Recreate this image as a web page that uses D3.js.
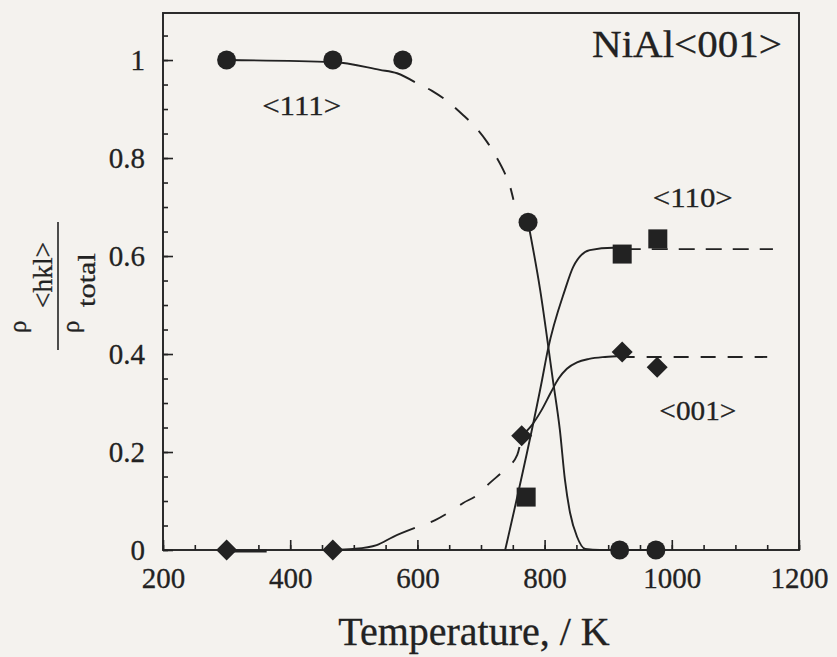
<!DOCTYPE html>
<html><head><meta charset="utf-8">
<script src="https://cdn.jsdelivr.net/npm/d3@7"></script>
<style>
body{margin:0;background:#f4f2ee}
svg{display:block}
</style>
</head><body>
<svg id="c" width="837" height="657"></svg>
<script>
// ---------- data ----------
const xTickValues = [200, 400, 600, 800, 1000, 1200];
const yTickValues = [0, 0.2, 0.4, 0.6, 0.8, 1];
const yTickLabels = ["0", "0.2", "0.4", "0.6", "0.8", "1"];

// measured points (Temperature K, fraction)
const temp111 = [300, 467, 577, 774, 918, 975];
const frac111 = [1.0, 1.0, 1.0, 0.669, 0, 0];
const temp110 = [771, 922, 978];
const frac110 = [0.108, 0.604, 0.635];
const temp001 = [300, 467, 764, 922, 977];
const frac001 = [0, 0, 0.233, 0.404, 0.373];

// guide curves [T, fraction]
const fit111Solid  = [[300,1.0],[467,0.996],[541,0.98],[568,0.973],[596,0.955]];
const fit111Dashed = [[596,0.955],[623,0.937],[648,0.915],[670,0.89],[692,0.862],[710,0.832],[725,0.80],[737,0.77],[745,0.745],[751,0.715]];
const fit111Drop   = [[774,0.669],[793,0.531],[813,0.347],[824,0.245],[832,0.143],[840,0.076],[851,0.027],[864,0.002],[887,0],[975,0]];
const fit110Rise   = [[738,0],[796,0.347],[805,0.408],[832,0.531],[845,0.578],[871,0.612],[908,0.617],[922,0.613]];
const fit110Plateau= [[926,0.614],[1159,0.614]];
const fit001Low    = [[300,-0.002],[363,-0.002]];
const fit001Solid  = [[467,0],[499,0.002],[536,0.010],[562,0.027],[596,0.045]];
const fit001Dashed = [[596,0.045],[628,0.061],[651,0.078],[672,0.096],[694,0.112],[714,0.137],[738,0.165],[757,0.194],[764,0.233]];
const fit001Rise   = [[764,0.233],[780,0.255],[795,0.285],[810,0.322],[822,0.350],[835,0.370],[851,0.383],[870,0.390],[895,0.394],[922,0.396]];
const fit001Plateau= [[918,0.394],[1150,0.394]];

// annotations [text, T, fraction]
const labelTexts = ["<111>", "<110>", "<001>"];
const labelT     = [418, 1033, 1041];
const labelFrac  = [0.888, 0.700, 0.265];

// ---------- drawing ----------
const ink = "#222222";
const svg = d3.select("#c");
svg.append("rect").attr("width",837).attr("height",657).attr("fill","#f4f2ee");

const x = d3.scaleLinear().domain([200,1200]).range([163,799]);
const y = d3.scaleLinear().domain([0,1.096]).range([550,13]);

const font = "'Liberation Serif','Times New Roman',serif";

// minor ticks
const gxm = svg.append("g").attr("transform","translate(0,550)")
  .call(d3.axisBottom(x).tickValues(d3.range(200,1201,50)).tickSize(-5).tickFormat(""));
const gym = svg.append("g").attr("transform","translate(163,0)")
  .call(d3.axisLeft(y).tickValues(d3.range(0,1.0751,0.05)).tickSize(-5).tickFormat(""));
// major ticks
const gx = svg.append("g").attr("transform","translate(0,550)")
  .call(d3.axisBottom(x).tickValues(xTickValues).tickSize(-10).tickFormat(d3.format("d")));
const gy = svg.append("g").attr("transform","translate(163,0)")
  .call(d3.axisLeft(y).tickValues(yTickValues).tickSize(-10).tickPadding(18)
        .tickFormat((d,i)=>yTickLabels[i]));

[gxm,gym,gx,gy].forEach(g=>{
  g.select(".domain").remove();
  g.selectAll(".tick line").attr("stroke",ink).attr("stroke-width",1.6);
});
gx.selectAll(".tick text").attr("y",38).attr("dy",0)
  .attr("font-family",font).attr("font-size",29).attr("fill",ink)
  .attr("stroke",ink).attr("stroke-width",0.3);
gy.selectAll(".tick text").attr("dy","0.34em")
  .attr("font-family",font).attr("font-size",29).attr("fill",ink)
  .attr("stroke",ink).attr("stroke-width",0.3);

// frame
svg.append("rect").attr("x",x(200)).attr("y",y(1.096))
  .attr("width",x(1200)-x(200)).attr("height",y(0)-y(1.096))
  .attr("fill","none").attr("stroke",ink).attr("stroke-width",1.9);

// curves
const line = d3.line().x(d=>x(d[0])).y(d=>y(d[1])).curve(d3.curveMonotoneX);
function drawCurve(data, dash, offset){
  const p = svg.append("path").attr("d",line(data)).attr("fill","none")
    .attr("stroke",ink).attr("stroke-width",1.9);
  if(dash){ p.attr("stroke-dasharray",dash).attr("stroke-dashoffset",offset||0); }
  return p;
}
drawCurve(fit111Solid);
drawCurve(fit111Dashed,"18,15",18);
drawCurve(fit111Drop);
drawCurve(fit110Rise);
drawCurve(fit110Plateau,"16,11",0);
drawCurve(fit001Low).attr("stroke-width",3);
drawCurve(fit001Solid);
drawCurve(fit001Dashed,"17,17",17);
drawCurve(fit001Rise);
drawCurve(fit001Plateau,"15,12",0);

// markers
svg.append("g").selectAll("circle").data(temp111.map((t,i)=>[t,frac111[i]]))
  .join("circle").attr("cx",d=>x(d[0])).attr("cy",d=>y(d[1])).attr("r",9.5).attr("fill",ink);
svg.append("g").selectAll("rect").data(temp110.map((t,i)=>[t,frac110[i]]))
  .join("rect").attr("x",d=>x(d[0])-9.5).attr("y",d=>y(d[1])-9.5)
  .attr("width",19).attr("height",19).attr("fill",ink);
svg.append("g").selectAll("path").data(temp001.map((t,i)=>[t,frac001[i]]))
  .join("path").attr("transform",d=>`translate(${x(d[0])},${y(d[1])})`)
  .attr("d","M0,-10.5L10.5,0L0,10.5L-10.5,0Z").attr("fill",ink);

// series labels
const widths = [79,80,77];
labelTexts.forEach((t,i)=>{
  svg.append("text").attr("x",x(labelT[i])).attr("y",y(labelFrac[i]))
    .attr("text-anchor","middle").attr("font-family",font).attr("font-size",27)
    .attr("fill",ink).attr("stroke",ink).attr("stroke-width",0.3)
    .attr("textLength",widths[i]).attr("lengthAdjust","spacingAndGlyphs").text(t);
});

// title
svg.append("text").attr("x",782).attr("y",57).attr("text-anchor","end")
  .attr("font-family",font).attr("font-size",37).attr("fill",ink)
  .attr("stroke",ink).attr("stroke-width",0.3)
  .attr("textLength",190).attr("lengthAdjust","spacingAndGlyphs").text("NiAl<001>");

// x axis title
svg.append("text").attr("x",474).attr("y",645).attr("text-anchor","middle")
  .attr("font-family",font).attr("font-size",40).attr("fill",ink)
  .attr("stroke",ink).attr("stroke-width",0.3).text("Temperature, / K");

// y axis title (fraction)
const yl = svg.append("g").attr("transform","translate(58,286) rotate(-90)")
  .attr("font-family",font).attr("fill",ink).attr("stroke",ink).attr("stroke-width",0.3);
yl.append("line").attr("x1",-64).attr("x2",64).attr("y1",0).attr("y2",0)
  .attr("stroke",ink).attr("stroke-width",1.6);
yl.append("text").attr("x",-47).attr("y",-32).attr("font-size",25).text("ρ");
yl.append("text").attr("x",-22).attr("y",-6).attr("font-size",27)
  .attr("textLength",66).attr("lengthAdjust","spacingAndGlyphs").text("<hkl>");
yl.append("text").attr("x",-47).attr("y",21).attr("font-size",25).text("ρ");
yl.append("text").attr("x",-21).attr("y",37).attr("font-size",26)
  .attr("textLength",54).attr("lengthAdjust","spacingAndGlyphs").text("total");
</script>
</body></html>
